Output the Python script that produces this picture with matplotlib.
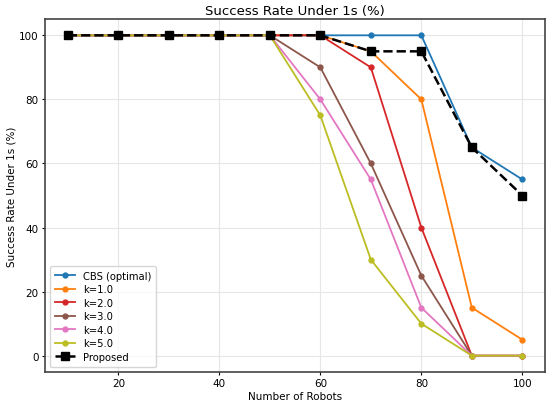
import matplotlib
matplotlib.use("Agg")
import matplotlib.pyplot as plt

robots = [10, 20, 30, 40, 50, 60, 70, 80, 90, 100]

cbs = [100, 100, 100, 100, 100, 100, 100, 100, 65, 55]
k1 = [100, 100, 100, 100, 100, 100, 95, 80, 15, 5]
k2 = [100, 100, 100, 100, 100, 100, 90, 40, 0, 0]
k3 = [100, 100, 100, 100, 100, 90, 60, 25, 0, 0]
k4 = [100, 100, 100, 100, 100, 80, 55, 15, 0, 0]
k5 = [100, 100, 100, 100, 100, 75, 30, 10, 0, 0]
proposed = [100, 100, 100, 100, 100, 100, 95, 95, 65, 50]

fig = plt.figure(figsize=(5.5, 4.06), dpi=100)
ax = fig.add_axes([0.082, 0.082, 0.909, 0.868])

ax.plot(robots, cbs, '-o', color='#1f77b4', lw=1.3, ms=3.5, label='CBS (optimal)')
ax.plot(robots, k1, '-o', color='#ff7f0e', lw=1.3, ms=3.5, label='k=1.0')
ax.plot(robots, k2, '-o', color='#d62728', lw=1.3, ms=3.5, label='k=2.0')
ax.plot(robots, k3, '-o', color='#8c564b', lw=1.3, ms=3.5, label='k=3.0')
ax.plot(robots, k4, '-o', color='#e377c2', lw=1.3, ms=3.5, label='k=4.0')
ax.plot(robots, k5, '-o', color='#bcbd22', lw=1.3, ms=3.5, label='k=5.0')
ax.plot(robots, proposed, '--s', color='black', lw=1.8, ms=5.5, label='Proposed')

ax.set_title('Success Rate Under 1s (%)', fontsize=9.5, pad=4)
ax.set_xlabel('Number of Robots', fontsize=7.5, labelpad=2)
ax.set_ylabel('Success Rate Under 1s (%)', fontsize=7.5, labelpad=2)
ax.tick_params(labelsize=7.5, length=2.5, pad=2)
ax.set_xlim(5.5, 104.5)
ax.set_ylim(-5, 105)
ax.grid(True, color='#e6e6e6', lw=0.8)
for s in ax.spines.values():
    s.set_color('#444444')
    s.set_linewidth(1.2)
ax.legend(loc='lower left', fontsize=7.2, borderpad=0.5, labelspacing=0.35,
          handlelength=2.0)

fig.savefig('out.png')
